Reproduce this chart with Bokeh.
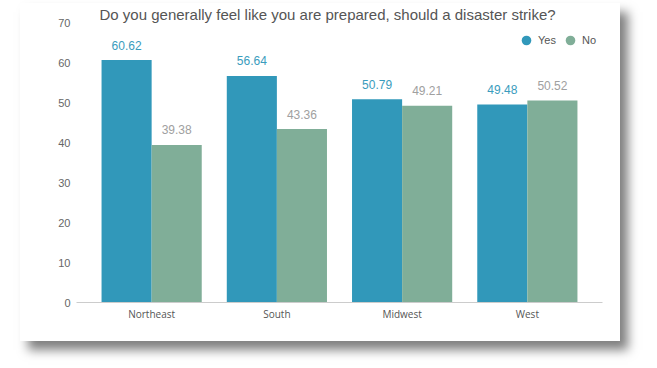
from bokeh.plotting import figure
from bokeh.models import ColumnDataSource, FactorRange, Legend, LegendItem, FixedTicker
from bokeh.transform import dodge
from bokeh.core.properties import value
from bokeh.embed import file_html
from bokeh.resources import INLINE

regions = ["Northeast", "South", "Midwest", "West"]
yes = [60.62, 56.64, 50.79, 49.48]
no = [39.38, 43.36, 49.21, 50.52]
yes_labels = ["60.62", "56.64", "50.79", "49.48"]
no_labels = ["39.38", "43.36", "49.21", "50.52"]
title_text = "Do you generally feel like you are prepared, should a disaster strike?"
y_ticks = [0, 10, 20, 30, 40, 50, 60, 70]

YES_COLOR = "#3198BA"
NO_COLOR = "#80AE98"

src = ColumnDataSource(dict(region=regions, yes=yes, no=no,
                            yes_lbl=yes_labels, no_lbl=no_labels))

xr = FactorRange(factors=regions, range_padding=0.1, range_padding_units="absolute")
p = figure(x_range=xr, y_range=(0, 70), width=600, height=338,
           output_backend="svg", toolbar_location=None, title=title_text,
           min_border_left=56, min_border_right=18, min_border_top=19, min_border_bottom=39)
p.styles = {"box-shadow": "8px 9px 10px rgba(0,0,0,0.5)",
            "margin-left": "20px", "margin-top": "3px"}
p.outline_line_color = None
p.background_fill_color = "white"
p.border_fill_color = "white"
p.xgrid.grid_line_color = None
p.ygrid.grid_line_color = None

p.title.align = "left"
p.title.offset = 23
p.title.standoff = 0
p.title.text_font = "Liberation Sans"
p.title.text_font_size = "15px"
p.title.text_font_style = "normal"
p.title.text_color = "#555555"

p.vbar(x=dodge("region", -0.2, range=p.x_range), top="yes", width=0.4, bottom=0,
       source=src, fill_color=YES_COLOR, line_color=None)
p.vbar(x=dodge("region", 0.2, range=p.x_range), top="no", width=0.4, bottom=0,
       source=src, fill_color=NO_COLOR, line_color=None)

p.text(x=dodge("region", -0.2, range=p.x_range), y="yes", text="yes_lbl", source=src,
       text_align="center", text_baseline="middle", y_offset=-15,
       text_font=value("Liberation Sans"), text_font_size="12px", text_color="#3A9CBD")
p.text(x=dodge("region", 0.2, range=p.x_range), y="no", text="no_lbl", source=src,
       text_align="center", text_baseline="middle", y_offset=-15,
       text_font=value("Liberation Sans"), text_font_size="12px", text_color="#A0A0A0")

# legend proxies (drawn outside the visible range)
r_yes = p.scatter(x=[regions[0]], y=[-100], size=11, marker="circle", fill_color=YES_COLOR, line_color=None)
r_no = p.scatter(x=[regions[0]], y=[-100], size=11, marker="circle", fill_color=NO_COLOR, line_color=None)
legend = Legend(items=[LegendItem(label="Yes", renderers=[r_yes]),
                       LegendItem(label="No", renderers=[r_no])],
                location="top_right", orientation="horizontal",
                border_line_color=None, background_fill_alpha=0,
                title=" ", title_text_font_size="2px", title_standoff=4,
                label_text_font="Liberation Sans", label_text_font_size="11px",
                label_text_color="#555555", glyph_width=24, glyph_height=24,
                label_standoff=0, spacing=0, margin=0, padding=5)
p.add_layout(legend)

p.yaxis.ticker = FixedTicker(ticks=y_ticks)
p.yaxis.axis_line_color = None
p.yaxis.major_tick_line_color = None
p.yaxis.minor_tick_line_color = None
p.yaxis.major_tick_out = 0
p.yaxis.major_tick_in = 0
p.yaxis.minor_tick_out = 0
p.yaxis.major_label_standoff = 6
p.yaxis.major_label_text_font = "Liberation Sans"
p.yaxis.major_label_text_font_size = "11px"
p.yaxis.major_label_text_color = "#666666"

p.xaxis.axis_line_color = "#CCCCCC"
p.xaxis.major_tick_line_color = None
p.xaxis.minor_tick_line_color = None
p.xaxis.major_tick_out = 0
p.xaxis.major_tick_in = 0
p.xaxis.minor_tick_out = 0
p.xaxis.major_label_standoff = 4
p.xaxis.major_label_text_font = "Open Sans"
p.xaxis.major_label_text_font_size = "10px"
p.xaxis.major_label_text_color = "#555555"

open("out.html", "w").write(file_html(p, INLINE))
